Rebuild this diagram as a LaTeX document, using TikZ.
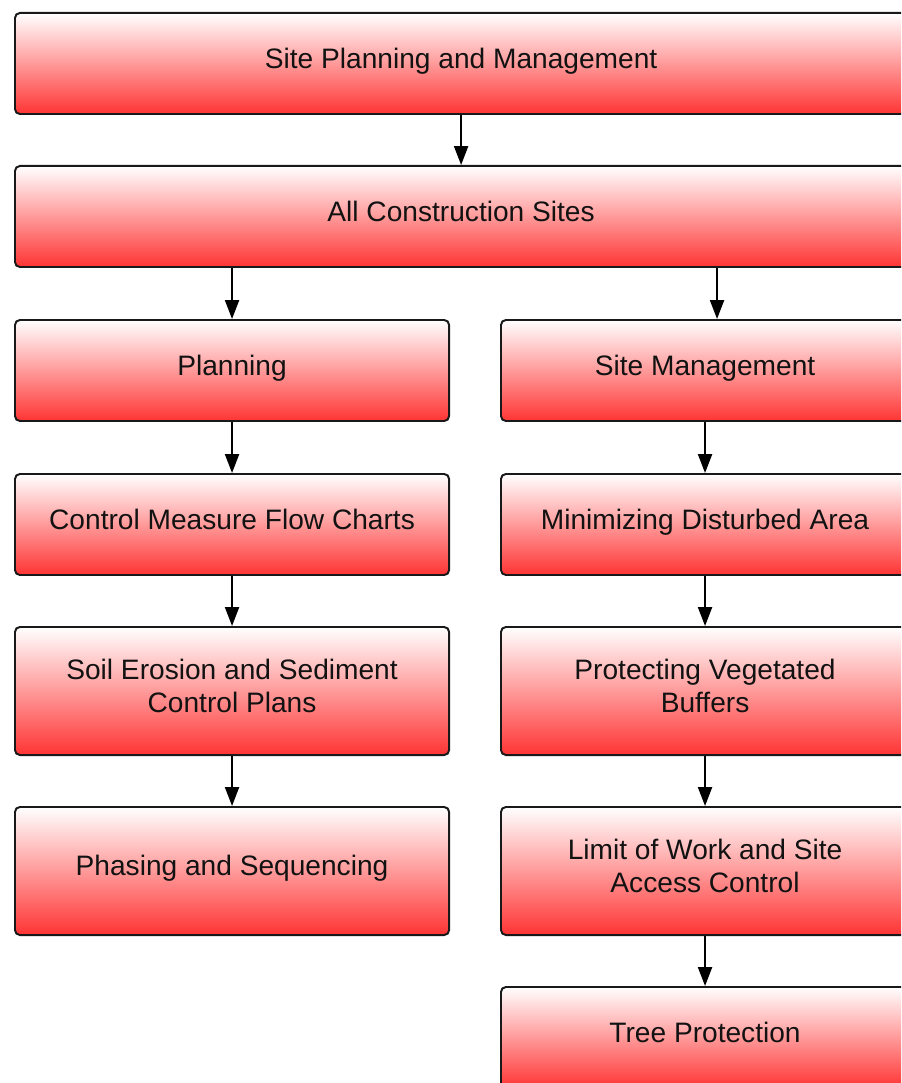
\documentclass[tikz,border=0pt]{standalone}
\usepackage{fontspec}
\setmainfont{Liberation Sans}
\usetikzlibrary{positioning,arrows.meta}
\definecolor{boxred}{RGB}{255,52,52}

\begin{document}
\begin{tikzpicture}[x=0.025cm, y=-0.025cm,
    box/.style={draw=black!90, line width=1.4pt, rounded corners=3.5pt,
        top color=white, bottom color=boxred, anchor=north west,
        minimum height=2.525cm, inner sep=0pt, align=center,
        text height=13pt, text depth=6.5pt,
        font=\fontsize{20}{23.4}\selectfont, text=black!93},
    wide/.style={box, minimum width=22.3cm},
    lcol/.style={box, minimum width=10.85cm},
    rcol/.style={box, minimum width=10.2cm},
    tall/.style={minimum height=3.2cm},
    twoline/.style={tall, text height=36pt, text depth=5pt},
    arr/.style={-{Triangle[length=13.5pt,width=10pt]}, line width=1.4pt}]
    \useasboundingbox (0,0) rectangle (901,1083);
    \clip (0,0) rectangle (901,1083);

    \node[wide](sitepm) at (14,12){Site Planning and Management};
    \node[wide](allsites) at (14,165){All Construction Sites};

    % left column
    \node[lcol](planning) at (14,319){Planning};
    \node[lcol](flowcharts) at (14,473){Control Measure Flow Charts};
    \node[lcol,twoline](soilplans) at (14,626){Soil Erosion and Sediment\\Control Plans};
    \node[lcol,tall](phasing) at (14,806){Phasing and Sequencing};

    % right column
    \node[rcol](sitemgmt) at (500,319){Site Management};
    \node[rcol](disturbed) at (500,473){Minimizing Disturbed Area};
    \node[rcol,twoline](buffers) at (500,626){Protecting Vegetated\\Buffers};
    \node[rcol,twoline](limitwork) at (500,806){Limit of Work and Site\\Access Control};
    \node[rcol](treeprot) at (500,986){Tree Protection};

    \coordinate(smin) at ([xshift=0.3cm]sitemgmt.north);

    \draw[arr] (sitepm.south) -- (allsites.north);
    \draw[arr] (planning.north |- allsites.south) -- (planning.north);
    \draw[arr] (smin |- allsites.south) -- (smin);
    \draw[arr] (planning) -- (flowcharts);
    \draw[arr] (flowcharts) -- (soilplans);
    \draw[arr] (soilplans) -- (phasing);
    \draw[arr] (sitemgmt) -- (disturbed);
    \draw[arr] (disturbed) -- (buffers);
    \draw[arr] (buffers) -- (limitwork);
    \draw[arr] (limitwork) -- (treeprot);
\end{tikzpicture}
\end{document}
